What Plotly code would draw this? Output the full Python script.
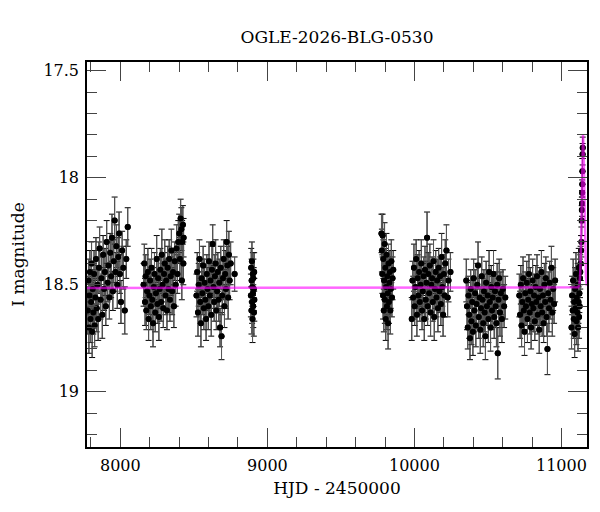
import plotly.graph_objects as go

# OGLE-2026-BLG-0530 photometry: [HJD-2450000, I mag, err]
season1 = [
    [7779, 18.62, 0.11], [7783, 18.48, 0.10], [7786, 18.70, 0.12], [7790, 18.55, 0.09],
    [7793, 18.44, 0.10], [7797, 18.66, 0.11], [7801, 18.58, 0.09], [7804, 18.40, 0.10],
    [7808, 18.72, 0.12], [7812, 18.52, 0.09], [7816, 18.63, 0.10], [7821, 18.45, 0.11],
    [7825, 18.69, 0.10], [7830, 18.56, 0.09], [7834, 18.38, 0.10], [7839, 18.61, 0.11],
    [7844, 18.50, 0.09], [7849, 18.66, 0.10], [7854, 18.42, 0.12], [7859, 18.33, 0.10],
    [7865, 18.57, 0.09], [7871, 18.47, 0.10], [7877, 18.64, 0.11], [7883, 18.36, 0.09],
    [7889, 18.52, 0.10], [7895, 18.44, 0.11], [7901, 18.60, 0.09], [7907, 18.30, 0.10],
    [7913, 18.49, 0.09], [7919, 18.41, 0.11], [7925, 18.56, 0.10], [7931, 18.35, 0.09],
    [7937, 18.46, 0.10], [7943, 18.28, 0.11], [7949, 18.53, 0.09], [7955, 18.39, 0.10],
    [7961, 18.20, 0.11], [7967, 18.44, 0.09], [7973, 18.32, 0.10], [7979, 18.50, 0.11],
    [7985, 18.37, 0.09], [7991, 18.26, 0.10], [7997, 18.45, 0.09], [8004, 18.58, 0.10],
    [8012, 18.34, 0.09], [8020, 18.42, 0.10], [8030, 18.62, 0.11], [8040, 18.38, 0.09],
    [8050, 18.23, 0.09],
]
season2 = [
    [8158, 18.50, 0.10], [8163, 18.40, 0.09], [8168, 18.58, 0.11], [8172, 18.46, 0.10],
    [8177, 18.62, 0.09], [8182, 18.53, 0.10], [8187, 18.44, 0.11], [8192, 18.66, 0.10],
    [8197, 18.55, 0.09], [8202, 18.48, 0.10], [8207, 18.60, 0.11], [8212, 18.42, 0.09],
    [8217, 18.57, 0.10], [8222, 18.68, 0.11], [8227, 18.51, 0.09], [8232, 18.45, 0.10],
    [8237, 18.63, 0.09], [8242, 18.54, 0.10], [8247, 18.38, 0.11], [8252, 18.59, 0.09],
    [8257, 18.47, 0.10], [8262, 18.65, 0.11], [8267, 18.52, 0.09], [8272, 18.43, 0.10],
    [8277, 18.58, 0.09], [8282, 18.36, 0.12], [8287, 18.50, 0.10], [8292, 18.61, 0.09],
    [8297, 18.45, 0.10], [8302, 18.40, 0.11], [8307, 18.55, 0.09], [8312, 18.48, 0.10],
    [8317, 18.62, 0.09], [8322, 18.42, 0.10], [8327, 18.52, 0.11], [8332, 18.38, 0.09],
    [8337, 18.57, 0.10], [8342, 18.46, 0.09], [8347, 18.34, 0.10], [8352, 18.53, 0.11],
    [8358, 18.44, 0.09], [8364, 18.60, 0.10], [8370, 18.39, 0.09], [8376, 18.50, 0.10],
    [8382, 18.33, 0.11], [8388, 18.45, 0.09], [8394, 18.30, 0.10], [8400, 18.26, 0.09],
    [8405, 18.38, 0.10], [8410, 18.19, 0.09], [8415, 18.24, 0.10], [8418, 18.48, 0.09],
    [8420, 18.30, 0.10], [8425, 18.22, 0.09], [8428, 18.40, 0.10], [8430, 18.28, 0.09],
]
season3 = [
    [8518, 18.55, 0.10], [8523, 18.44, 0.09], [8528, 18.63, 0.11], [8533, 18.50, 0.10],
    [8538, 18.38, 0.09], [8543, 18.58, 0.10], [8548, 18.68, 0.11], [8553, 18.47, 0.09],
    [8558, 18.54, 0.10], [8563, 18.41, 0.09], [8568, 18.61, 0.10], [8573, 18.49, 0.11],
    [8578, 18.57, 0.09], [8583, 18.66, 0.10], [8588, 18.45, 0.09], [8593, 18.52, 0.10],
    [8598, 18.60, 0.11], [8603, 18.39, 0.09], [8608, 18.55, 0.10], [8613, 18.48, 0.09],
    [8618, 18.64, 0.10], [8623, 18.43, 0.11], [8628, 18.31, 0.09], [8633, 18.51, 0.10],
    [8638, 18.58, 0.09], [8643, 18.46, 0.10], [8648, 18.40, 0.11], [8653, 18.62, 0.09],
    [8658, 18.53, 0.10], [8663, 18.44, 0.09], [8668, 18.57, 0.10], [8673, 18.49, 0.11],
    [8678, 18.70, 0.09], [8683, 18.42, 0.10], [8688, 18.74, 0.11], [8693, 18.55, 0.09],
    [8698, 18.47, 0.10], [8703, 18.38, 0.09], [8708, 18.60, 0.10], [8713, 18.45, 0.11],
    [8718, 18.52, 0.09], [8723, 18.30, 0.10], [8728, 18.41, 0.09], [8733, 18.56, 0.10],
    [8738, 18.36, 0.11], [8743, 18.48, 0.09], [8750, 18.40, 0.10], [8777, 18.45, 0.08],
]
season4 = [
    [8888, 18.55, 0.10], [8890, 18.42, 0.09], [8892, 18.62, 0.11], [8893, 18.48, 0.10],
    [8895, 18.39, 0.09], [8896, 18.58, 0.10], [8898, 18.51, 0.09], [8899, 18.66, 0.11],
    [8901, 18.45, 0.10], [8902, 18.54, 0.09], [8904, 18.60, 0.10], [8905, 18.47, 0.09],
    [8907, 18.52, 0.10], [8908, 18.63, 0.11], [8910, 18.44, 0.09], [8911, 18.57, 0.10],
]
season5 = [
    [9776, 18.26, 0.09], [9779, 18.34, 0.10], [9782, 18.45, 0.09], [9784, 18.27, 0.10],
    [9787, 18.55, 0.11], [9789, 18.38, 0.09], [9792, 18.62, 0.10], [9794, 18.48, 0.09],
    [9797, 18.31, 0.10], [9799, 18.57, 0.11], [9802, 18.42, 0.09], [9805, 18.66, 0.10],
    [9807, 18.51, 0.09], [9810, 18.36, 0.10], [9813, 18.60, 0.11], [9816, 18.46, 0.09],
    [9819, 18.54, 0.10], [9821, 18.68, 0.12], [9824, 18.40, 0.09], [9827, 18.58, 0.10],
    [9830, 18.49, 0.09], [9833, 18.44, 0.10], [9836, 18.62, 0.11], [9839, 18.52, 0.09],
    [9843, 18.39, 0.10], [9847, 18.56, 0.09], [9851, 18.47, 0.10], [9856, 18.43, 0.09],
]
season6 = [
    [9982, 18.66, 0.10], [9987, 18.48, 0.09], [9992, 18.56, 0.10], [9997, 18.42, 0.11],
    [10002, 18.60, 0.09], [10007, 18.51, 0.10], [10012, 18.38, 0.09], [10017, 18.64, 0.10],
    [10022, 18.47, 0.11], [10027, 18.55, 0.09], [10032, 18.44, 0.10], [10037, 18.58, 0.09],
    [10042, 18.50, 0.10], [10047, 18.40, 0.11], [10052, 18.62, 0.09], [10057, 18.53, 0.10],
    [10062, 18.46, 0.09], [10067, 18.66, 0.10], [10072, 18.43, 0.11], [10077, 18.57, 0.09],
    [10082, 18.49, 0.10], [10086, 18.28, 0.12], [10090, 18.60, 0.09], [10095, 18.45, 0.10],
    [10100, 18.54, 0.09], [10105, 18.41, 0.10], [10110, 18.63, 0.11], [10115, 18.50, 0.09],
    [10120, 18.47, 0.10], [10125, 18.58, 0.09], [10130, 18.39, 0.10], [10135, 18.65, 0.11],
    [10140, 18.52, 0.09], [10145, 18.44, 0.10], [10150, 18.56, 0.09], [10155, 18.48, 0.10],
    [10160, 18.61, 0.11], [10165, 18.42, 0.09], [10170, 18.53, 0.10], [10175, 18.46, 0.09],
    [10180, 18.59, 0.10], [10185, 18.37, 0.11], [10190, 18.51, 0.09], [10195, 18.64, 0.10],
    [10200, 18.45, 0.09], [10205, 18.55, 0.10], [10210, 18.40, 0.11], [10218, 18.34, 0.12],
    [10226, 18.56, 0.09], [10232, 18.48, 0.10], [10245, 18.44, 0.09],
]
season7 = [
    [10353, 18.48, 0.10], [10358, 18.60, 0.11], [10363, 18.70, 0.10], [10368, 18.55, 0.09],
    [10373, 18.64, 0.11], [10378, 18.75, 0.10], [10383, 18.52, 0.09], [10388, 18.67, 0.11],
    [10393, 18.58, 0.10], [10398, 18.72, 0.11], [10403, 18.47, 0.09], [10408, 18.62, 0.10],
    [10413, 18.54, 0.11], [10418, 18.69, 0.10], [10423, 18.59, 0.09], [10428, 18.50, 0.10],
    [10433, 18.41, 0.11], [10438, 18.65, 0.10], [10443, 18.56, 0.09], [10448, 18.71, 0.11],
    [10453, 18.61, 0.10], [10458, 18.46, 0.09], [10463, 18.57, 0.10], [10468, 18.68, 0.11],
    [10473, 18.53, 0.10], [10478, 18.63, 0.09], [10483, 18.74, 0.11], [10488, 18.49, 0.10],
    [10493, 18.60, 0.09], [10498, 18.55, 0.10], [10503, 18.66, 0.11], [10508, 18.44, 0.10],
    [10513, 18.58, 0.09], [10518, 18.70, 0.11], [10523, 18.51, 0.10], [10528, 18.62, 0.09],
    [10533, 18.56, 0.10], [10538, 18.45, 0.11], [10543, 18.65, 0.10], [10548, 18.53, 0.09],
    [10553, 18.60, 0.10], [10558, 18.68, 0.11], [10563, 18.50, 0.10], [10567, 18.82, 0.12],
    [10572, 18.57, 0.10], [10577, 18.47, 0.09], [10582, 18.63, 0.11], [10588, 18.54, 0.10],
    [10595, 18.66, 0.11], [10602, 18.52, 0.09], [10610, 18.60, 0.10], [10618, 18.56, 0.10],
]
season8 = [
    [10714, 18.55, 0.10], [10719, 18.64, 0.11], [10724, 18.50, 0.09], [10729, 18.69, 0.10],
    [10734, 18.58, 0.11], [10739, 18.47, 0.10], [10744, 18.62, 0.09], [10749, 18.72, 0.11],
    [10754, 18.54, 0.10], [10759, 18.60, 0.09], [10764, 18.49, 0.10], [10769, 18.66, 0.11],
    [10774, 18.57, 0.10], [10779, 18.45, 0.09], [10784, 18.63, 0.10], [10789, 18.53, 0.11],
    [10794, 18.70, 0.10], [10799, 18.59, 0.09], [10804, 18.48, 0.10], [10809, 18.61, 0.11],
    [10814, 18.55, 0.10], [10819, 18.67, 0.09], [10824, 18.51, 0.10], [10829, 18.58, 0.11],
    [10834, 18.46, 0.10], [10839, 18.64, 0.09], [10844, 18.56, 0.10], [10849, 18.71, 0.11],
    [10854, 18.52, 0.10], [10859, 18.60, 0.09], [10864, 18.44, 0.10], [10869, 18.63, 0.11],
    [10874, 18.55, 0.10], [10879, 18.68, 0.09], [10884, 18.50, 0.10], [10889, 18.58, 0.11],
    [10894, 18.47, 0.10], [10899, 18.65, 0.09], [10905, 18.80, 0.12], [10910, 18.54, 0.10],
    [10915, 18.61, 0.11], [10920, 18.49, 0.10], [10926, 18.57, 0.09], [10932, 18.42, 0.10],
    [10938, 18.63, 0.11], [10944, 18.52, 0.10], [10950, 18.59, 0.09], [10957, 18.48, 0.10],
]
season9 = [
    [11069, 18.70, 0.10], [11073, 18.55, 0.09], [11077, 18.62, 0.11], [11080, 18.48, 0.10],
    [11084, 18.66, 0.09], [11087, 18.58, 0.10], [11090, 18.73, 0.11], [11093, 18.52, 0.10],
    [11096, 18.61, 0.09], [11099, 18.45, 0.10], [11102, 18.67, 0.11], [11105, 18.56, 0.10],
    [11108, 18.63, 0.09], [11111, 18.50, 0.10], [11113, 18.70, 0.11], [11116, 18.58, 0.10],
    [11118, 18.42, 0.09], [11120, 18.65, 0.10], [11122, 18.54, 0.09], [11124, 18.60, 0.10],
    [11126, 18.47, 0.09], [11128, 18.44, 0.08], [11131, 18.40, 0.08], [11134, 18.34, 0.07],
    [11136, 18.30, 0.07], [11138, 18.20, 0.07], [11139, 18.15, 0.06], [11140, 18.12, 0.06],
    [11141, 18.07, 0.06], [11142, 18.03, 0.06], [11143, 17.97, 0.06], [11144, 17.89, 0.05],
    [11145, 17.86, 0.05],
]

# microlensing model curve
model_t = [7773, 11100, 11115, 11122, 11127, 11131, 11135, 11139, 11142, 11145, 11147,
           11149, 11152, 11155, 11159, 11163, 11167, 11172, 11174]
model_m = [18.515, 18.515, 18.512, 18.50, 18.46, 18.38, 18.24, 18.06, 17.92, 17.83, 17.80,
           17.83, 17.92, 18.06, 18.24, 18.38, 18.46, 18.50, 18.505]

rows = season1 + season2 + season3 + season4 + season5 + season6 + season7 + season8 + season9
hjd = [r[0] for r in rows]
mag = [r[1] for r in rows]
err = [r[2] for r in rows]

font = "DejaVu Serif"

fig = go.Figure()
# black caps first, then grey bar lines over them, then the black points
fig.add_trace(go.Scatter(
    x=hjd, y=mag, mode="markers", marker=dict(color="black", size=6),
    error_y=dict(type="data", array=err, visible=True, color="black", thickness=1, width=3),
    showlegend=False, hoverinfo="skip",
))
fig.add_trace(go.Scatter(
    x=hjd, y=mag, mode="markers", marker=dict(color="black", size=6),
    error_y=dict(type="data", array=err, visible=True, color="#5a5a5a", thickness=1, width=0),
    showlegend=False,
))
fig.add_trace(go.Scatter(
    x=model_t, y=model_m, mode="lines",
    line=dict(color="rgba(255,0,255,0.6)", width=2.5),
    showlegend=False,
))

axis_common = dict(
    showline=True, linecolor="black", linewidth=1.5, mirror="ticks",
    ticks="inside", ticklen=19, tickwidth=1, tickcolor="#444444",
    showgrid=False, zeroline=False, automargin=False,
    tickfont=dict(family=font, size=16, color="black"),
)
fig.update_xaxes(
    range=[7773, 11174], dtick=1000, tick0=0, tickformat="d", ticklabelstandoff=3,
    minor=dict(ticks="inside", ticklen=10, dtick=200, tick0=0, tickcolor="#444444", showgrid=False),
    title=dict(text="HJD - 2450000", font=dict(family=font, size=17, color="black"), standoff=8),
    **axis_common,
)
fig.update_yaxes(
    range=[19.258, 17.459], dtick=0.5, tick0=0, ticklabelstandoff=3,
    minor=dict(ticks="inside", ticklen=10, dtick=0.1, tick0=0, tickcolor="#444444", showgrid=False),
    title=dict(text="I magnitude", font=dict(family=font, size=17, color="black"), standoff=14),
    **axis_common,
)
# page body adds an 8 px margin, so the figure is 8 px smaller and margins shifted
fig.update_layout(
    width=592, height=496,
    margin=dict(l=79, r=13, t=54, b=57),
    plot_bgcolor="white", paper_bgcolor="white",
    title=dict(text="OGLE-2026-BLG-0530", x=0.5, xref="paper", xanchor="center",
               y=1 - 29 / 496, yanchor="middle", yref="container",
               font=dict(family=font, size=17, color="black")),
)
fig.write_html("out.html")
